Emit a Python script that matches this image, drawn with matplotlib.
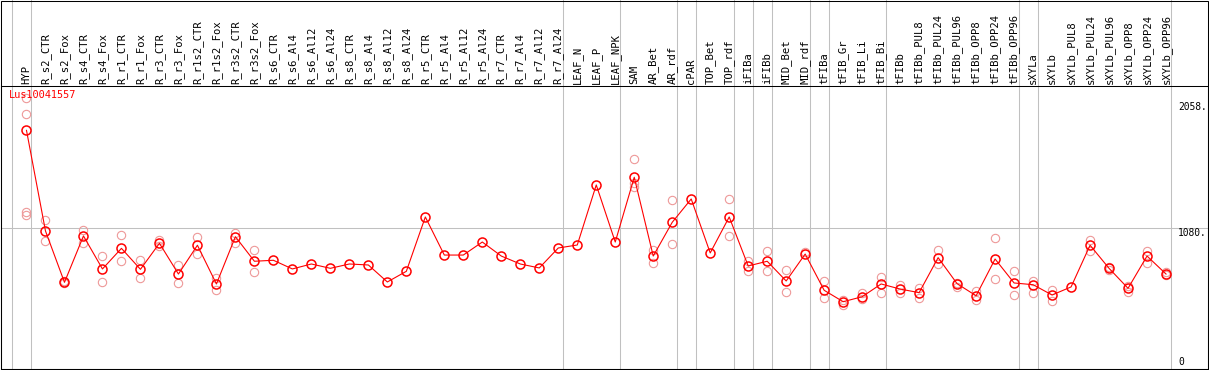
import matplotlib
matplotlib.use("Agg")
import matplotlib.pyplot as plt
from matplotlib.patches import Rectangle
from matplotlib.transforms import blended_transform_factory

# sample names along the top
labels = ["HYP", "R_s2_CTR", "R_s2_Fox", "R_s4_CTR", "R_s4_Fox", "R_r1_CTR", "R_r1_Fox",
          "R_r3_CTR", "R_r3_Fox", "R_r1s2_CTR", "R_r1s2_Fox", "R_r3s2_CTR", "R_r3s2_Fox",
          "R_s6_CTR", "R_s6_Al4", "R_s6_Al12", "R_s6_Al24", "R_s8_CTR", "R_s8_Al4",
          "R_s8_Al12", "R_s8_Al24", "R_r5_CTR", "R_r5_Al4", "R_r5_Al12", "R_r5_Al24",
          "R_r7_CTR", "R_r7_Al4", "R_r7_Al12", "R_r7_Al24", "LEAF_N", "LEAF_P", "LEAF_NPK",
          "SAM", "AR_Bet", "AR_rdf", "cPAR", "TOP_Bet", "TOP_rdf", "iFIBa", "iFIBb",
          "MID_Bet", "MID_rdf", "tFIBa", "tFIB_Gr", "tFIB_Li", "tFIB_Bi", "tFIBb",
          "tFIBb_PUL8", "tFIBb_PUL24", "tFIBb_PUL96", "tFIBb_OPP8", "tFIBb_OPP24",
          "tFIBb_OPP96", "sXYLa", "sXYLb", "sXYLb_PUL8", "sXYLb_PUL24", "sXYLb_PUL96",
          "sXYLb_OPP8", "sXYLb_OPP24", "sXYLb_OPP96"]

# mean expression per sample
means = [1867, 1056, 642, 1016, 750, 916, 747, 957, 709, 941, 629, 1010, 812,
         820, 750, 790, 755, 790, 782, 645, 731, 1169, 862, 862, 967, 854, 790, 758, 919,
         943, 1427, 967, 1489, 854, 1126, 1314, 879, 1169, 774, 812, 653, 870, 578,
         486, 526, 629, 588, 559, 841, 631, 534, 830, 637, 623, 540, 605, 941, 755, 594,
         854, 709]

# individual replicates (empty where only one value)
reps = [[2130, 1999, 1209, 1185], [1145, 973], [653, 637], [1064, 962], [854, 642],
        [1024, 812], [820, 675], [980, 937], [779, 637], [1008, 868], [675, 580],
        [1042, 962], [903, 723],
        [], [], [], [], [], [], [], [], [], [], [], [], [], [], [], [], [], [], [],
        [1634, 1440, 1408], [903, 800], [1306, 951], [], [], [1314, 1016], [816, 736],
        [895, 731], [739, 562], [887], [650, 513], [500, 459], [559, 505], [688, 556],
        [621, 554], [599, 518], [905, 787], [639, 607], [575, 502], [999, 667],
        [731, 538], [653, 556], [580, 494], [], [983, 897], [767, 743], [615, 562],
        [897, 800], [725, 701]]

# last sample of each group (separator drawn just after it)
group_ends = [-1, 0, 28, 31, 34, 35, 37, 38, 39, 41, 42, 45, 52, 53, 60]
y_ticks = [2058, 1080, 0]
gene = "Lus10041557"

W, H = 1209, 370
fig = plt.figure(figsize=(W / 100, H / 100), dpi=100)
ax = fig.add_axes([1 / W, 1.5 / H, 1207 / W, 283 / H])
ax.set_xlim(-1.342, 62.21)
ax.set_ylim(-52.4, 2228.6)

mono = "DejaVu Sans Mono"

# grid / separators
ax.axhline(1080, color="#c0c0c0", lw=0.75, zorder=0)
for g in group_ends:
    ax.axvline(g + 0.24, ymin=0, ymax=1.302, color="#c0c0c0", lw=0.75,
               zorder=0, clip_on=False)

# replicates
rx, ry = [], []
for i, r in enumerate(reps):
    for v in r:
        rx.append(i)
        ry.append(v)
ax.plot(rx, ry, "o", mfc="none", mec="#ee9999", ms=6, mew=0.8, ls="none", zorder=2)

# means
xs = list(range(len(means)))
ax.plot(xs, means, "-", color="red", lw=0.8, zorder=3)
ax.plot(xs, means, "o", mfc="none", mec="red", ms=6.5, mew=1.1, ls="none", zorder=4)

# labels on top
ax.xaxis.tick_top()
ax.set_xticks(xs)
ax.set_xticklabels(labels, rotation=90, fontfamily=mono, fontsize=7.6)
ax.tick_params(axis="x", length=0, pad=1.4)
ax.set_yticks([])

trans = blended_transform_factory(ax.transAxes, ax.transData)
for v in y_ticks:
    va = "top" if v == 1080 else "center"
    ax.text(0.9751, v, f"{v}." if v else "0", transform=trans, ha="left", va=va,
            fontfamily=mono, fontsize=6.9)

ax.text(8.3 / 1207, 0.985, gene, transform=ax.transAxes, ha="left", va="top",
        color="red", fontfamily=mono, fontsize=7.4)

for s in ax.spines.values():
    s.set_linewidth(0.75)

fig.add_artist(Rectangle((1 / W, 1.5 / H), 1207 / W, 368 / H, fill=False,
                         ec="black", lw=0.75, transform=fig.transFigure))

fig.savefig("out.png", dpi=100)
